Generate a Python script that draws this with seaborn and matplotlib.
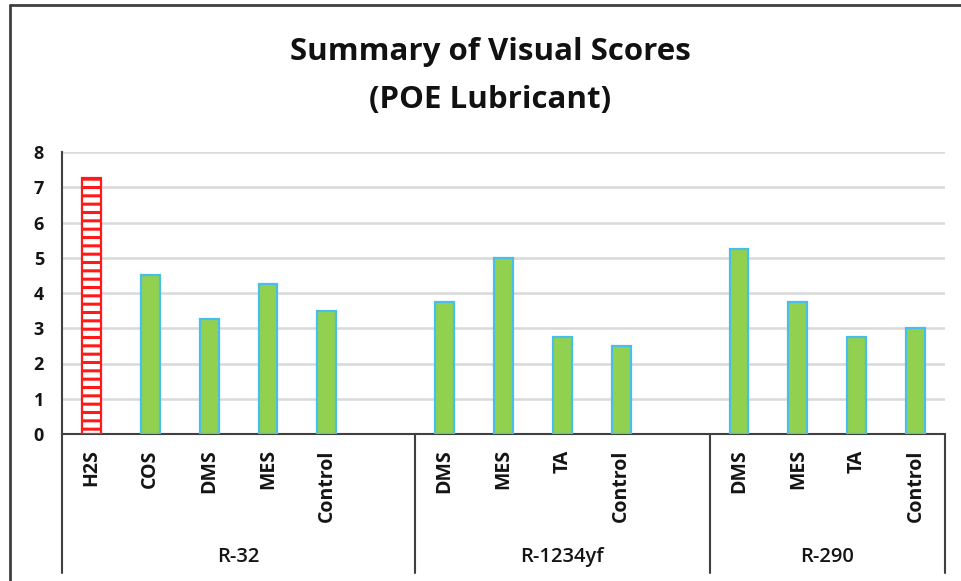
import matplotlib
matplotlib.use("Agg")
import matplotlib.pyplot as plt
from matplotlib.lines import Line2D
import seaborn as sns
import pandas as pd

# ---- data ----
groups = ["R-32", "R-1234yf", "R-290"]
r32_labels = ["H2S", "COS", "DMS", "MES", "Control"]
r32_values = [7.25, 4.5, 3.25, 4.25, 3.5]
r1234yf_labels = ["DMS", "MES", "TA", "Control"]
r1234yf_values = [3.75, 5.0, 2.75, 2.5]
r290_labels = ["DMS", "MES", "TA", "Control"]
r290_values = [5.25, 3.75, 2.75, 3.0]
y_ticks = [0, 1, 2, 3, 4, 5, 6, 7, 8]
title_lines = ["Summary of Visual Scores", "(POE Lubricant)"]

# Build category slots (with an empty slot after the first two groups)
group_labels = [r32_labels, r1234yf_labels, r290_labels]
group_values = [r32_values, r1234yf_values, r290_values]
keys, labels, values, order, tick_labels, spans = [], [], [], [], [], []
for gi, (g, labs, vals) in enumerate(zip(groups, group_labels, group_values)):
    start = len(order)
    for lab, v in zip(labs, vals):
        k = f"{g}|{lab}"
        keys.append(k); labels.append(lab); values.append(v)
        order.append(k); tick_labels.append(lab)
    if gi < len(groups) - 1:
        order.append(f"blank{gi}"); tick_labels.append("")
    spans.append((start - 0.5, len(order) - 0.5))

df = pd.DataFrame({"key": keys, "label": labels, "value": values})

sns.set_theme(style="white")
plt.rcParams["font.family"] = ["Open Sans", "DejaVu Sans"]
plt.rcParams["hatch.linewidth"] = 2.2

fig = plt.figure(figsize=(9.61, 5.81), dpi=100)
ax = fig.add_axes([62 / 961, 1 - 434 / 581, (945 - 62) / 961, (434 - 152) / 581])

green = "#92D050"
edge_blue = "#47BFEA"
sns.barplot(data=df, x="key", y="value", order=order, color=green,
            saturation=1, width=0.32, ax=ax, zorder=3, linewidth=1.6,
            edgecolor=edge_blue)

# H2S bar: red hatched
for p in ax.patches:
    xc = p.get_x() + p.get_width() / 2
    if abs(xc - order.index("R-32|H2S")) < 0.01:
        p.set_facecolor("white")
        p.set_edgecolor("#FF1A1A")
        p.set_hatch("--")

txt = "#141414"
ax.set_xlim(-0.5, len(order) - 0.5)
ax.set_ylim(0, 8)
ax.set_yticks(y_ticks)
ax.set_yticklabels([str(t) for t in y_ticks], fontsize=13, fontweight="bold",
                   color=txt)
ax.tick_params(axis="y", length=0, pad=13)
ax.set_xticks(range(len(order)))
ax.set_xticklabels(tick_labels, rotation=90, fontsize=14, fontweight="bold",
                   color=txt, va="top", ha="center")
ax.tick_params(axis="x", length=0, pad=11)
ax.set_xlabel("")
ax.set_ylabel("")

ax.yaxis.grid(True, color="#D9D9D9", linewidth=1.8, zorder=0)
ax.set_axisbelow(True)
for s in ["top", "right"]:
    ax.spines[s].set_visible(False)
ax.spines["left"].set_color("#404040")
ax.spines["left"].set_linewidth(1.5)
ax.spines["bottom"].set_color("#404040")
ax.spines["bottom"].set_linewidth(1.5)

# Group dividers and group labels below axis
trans = ax.get_xaxis_transform()
ybot = (434 - 573) / (434 - 152)
boundaries = sorted(set([s for s, e in spans] + [e for s, e in spans]))
for b in boundaries:
    ax.add_line(Line2D([b, b], [0, ybot], transform=trans, color="#404040",
                       linewidth=1.5, clip_on=False))
for g, (s, e) in zip(groups, spans):
    ax.text((s + e) / 2, (434 - 557) / (434 - 152), g, transform=trans,
            ha="center", va="center", fontsize=14.5, fontweight="semibold",
            color=txt)

fig.text(490 / 961, 1 - 52 / 581, title_lines[0], ha="center", va="center",
         fontsize=22.5, fontweight="bold", color="#111111")
fig.text(490 / 961, 1 - 100 / 581, title_lines[1], ha="center", va="center",
         fontsize=22.5, fontweight="bold", color="#111111")

# Figure frame (cropped chart border)
fig.add_artist(Line2D([10 / 961, 10 / 961], [0, 1 - 5 / 581],
                      transform=fig.transFigure, color="#404040", linewidth=2))
fig.add_artist(Line2D([10 / 961, 1], [1 - 5 / 581, 1 - 5 / 581],
                      transform=fig.transFigure, color="#404040", linewidth=2))

fig.savefig("out.png", dpi=100)
